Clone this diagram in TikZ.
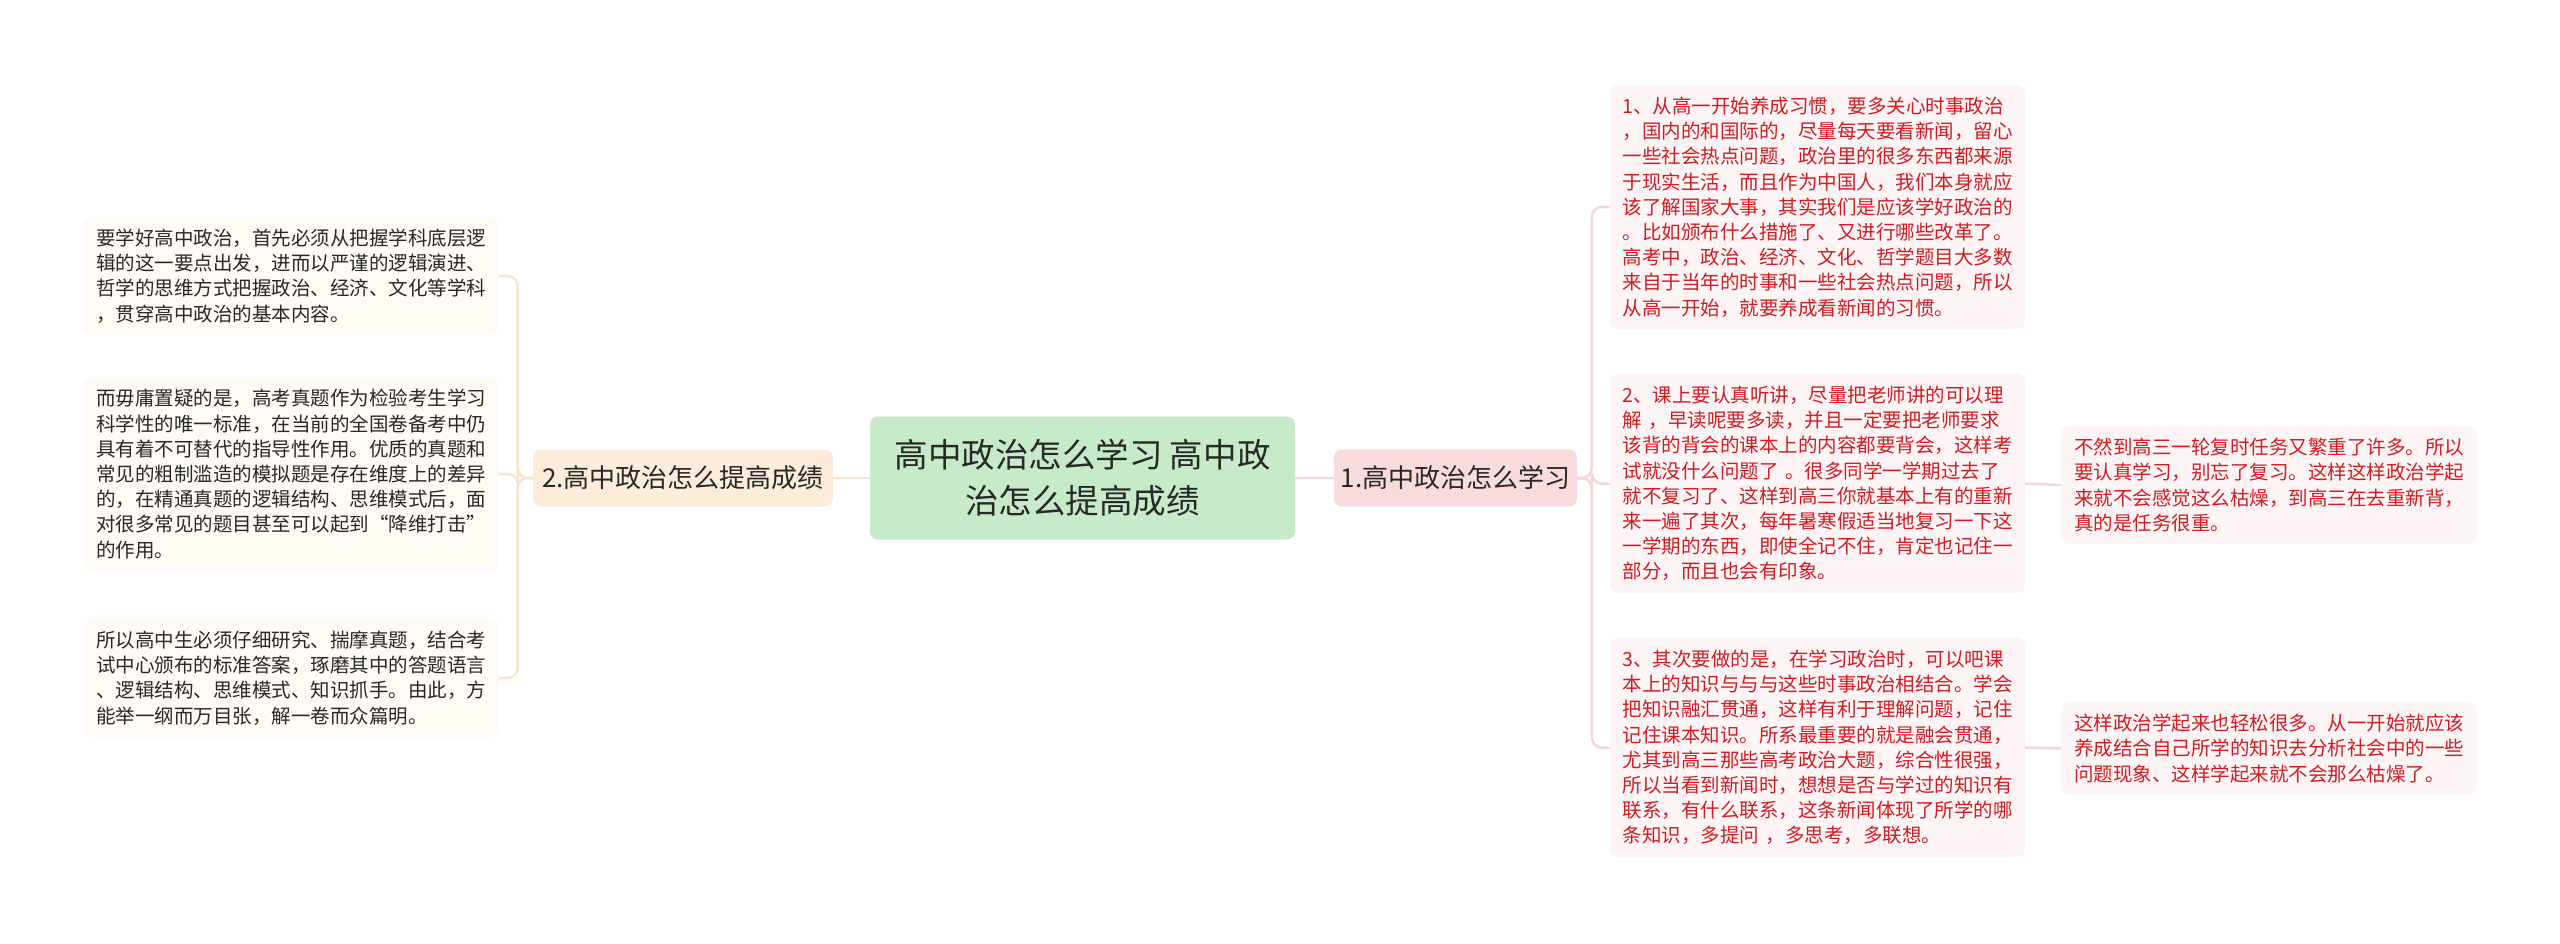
\documentclass[tikz,border=0pt]{standalone}
\usepackage{fontspec}
\usepackage{xcolor}
\setmainfont{Noto Sans CJK SC}
\usetikzlibrary{positioning, calc}

\definecolor{verdeC}{RGB}{199,235,201}
\definecolor{rosaN}{RGB}{250,219,220}
\definecolor{pescaN}{RGB}{253,236,218}
\definecolor{rosaF}{RGB}{253,245,245}
\definecolor{crema}{RGB}{254,250,244}
\definecolor{rossoT}{RGB}{208,28,34}
\definecolor{grigioT}{RGB}{40,40,40}
\definecolor{rosaL}{RGB}{246,213,215}
\definecolor{pescaL}{RGB}{252,228,204}

\tikzset{
  centrale/.style={fill=verdeC, rounded corners=8pt, minimum width=425pt, minimum height=123pt,
    align=center, text=grigioT, font=\fontsize{33.5}{46}\selectfont},
  ramo/.style={rounded corners=8pt, minimum height=57pt, inner xsep=4pt, text=grigioT,
    font=\fontsize{26}{30}\selectfont},
  foglia/.style={rounded corners=8pt, text width=390pt, inner xsep=12.5pt, inner ysep=12pt,
    align=left, font=\fontsize{19.5}{25.2}\selectfont},
  fogliaR/.style={foglia, fill=rosaF, text=rossoT},
  fogliaL/.style={foglia, fill=crema, text=grigioT},
  rlink/.style={draw=rosaL, line width=2.5pt, rounded corners=10pt},
  llink/.style={draw=pescaL, line width=2.5pt, rounded corners=10pt}
}

\begin{document}
\begin{tikzpicture}[x=1pt, y=-1pt]
    \useasboundingbox (0,0) rectangle (2560,943);

    % Nodo centrale e rami
    \node[centrale] (centro) at (1082.5,478) {高中政治怎么学习 高中政\\治怎么提高成绩};
    \node[ramo, fill=rosaN, minimum width=243pt] (n1) at (1455.5,478) {1.高中政治怎么学习};
    \node[ramo, fill=pescaN, minimum width=300pt] (n2) at (683,478) {2.高中政治怎么提高成绩};

    % Foglie a destra
    \node[fogliaR] (r1) at (1817.5,207) {1、从高一开始养成习惯，要多关心时事政治\\，国内的和国际的，尽量每天要看新闻，留心\\一些社会热点问题，政治里的很多东西都来源\\于现实生活，而且作为中国人，我们本身就应\\该了解国家大事，其实我们是应该学好政治的\\。比如颁布什么措施了、又进行哪些改革了。\\高考中，政治、经济、文化、哲学题目大多数\\来自于当年的时事和一些社会热点问题，所以\\从高一开始，就要养成看新闻的习惯。};
    \node[fogliaR] (r2) at (1817.5,483.5) {2、课上要认真听讲，尽量把老师讲的可以理\\解 ，早读呢要多读，并且一定要把老师要求\\该背的背会的课本上的内容都要背会，这样考\\试就没什么问题了 。很多同学一学期过去了\\就不复习了、这样到高三你就基本上有的重新\\来一遍了其次，每年暑寒假适当地复习一下这\\一学期的东西，即使全记不住，肯定也记住一\\部分，而且也会有印象。};
    \node[fogliaR] (r3) at (1817.5,747.5) {3、其次要做的是，在学习政治时，可以吧课\\本上的知识与与与这些时事政治相结合。学会\\把知识融汇贯通，这样有利于理解问题，记住\\记住课本知识。所系最重要的就是融会贯通，\\尤其到高三那些高考政治大题，综合性很强，\\所以当看到新闻时，想想是否与学过的知识有\\联系，有什么联系，这条新闻体现了所学的哪\\条知识，多提问 ，多思考，多联想。};
    \node[fogliaR] (r2c) at (2269,485) {不然到高三一轮复时任务又繁重了许多。所以\\要认真学习，别忘了复习。这样这样政治学起\\来就不会感觉这么枯燥，到高三在去重新背，\\真的是任务很重。};
    \node[fogliaR] (r3c) at (2269,748.5) {这样政治学起来也轻松很多。从一开始就应该\\养成结合自己所学的知识去分析社会中的一些\\问题现象、这样学起来就不会那么枯燥了。};

    % Foglie a sinistra
    \node[fogliaL] (l1) at (291,276) {要学好高中政治，首先必须从把握学科底层逻\\辑的这一要点出发，进而以严谨的逻辑演进、\\哲学的思维方式把握政治、经济、文化等学科\\，贯穿高中政治的基本内容。};
    \node[fogliaL] (l2) at (291,474) {而毋庸置疑的是，高考真题作为检验考生学习\\科学性的唯一标准，在当前的全国卷备考中仍\\具有着不可替代的指导性作用。优质的真题和\\常见的粗制滥造的模拟题是存在维度上的差异\\的，在精通真题的逻辑结构、思维模式后，面\\对很多常见的题目甚至可以起到“降维打击”\\的作用。};
    \node[fogliaL] (l3) at (291,678) {所以高中生必须仔细研究、揣摩真题，结合考\\试中心颁布的标准答案，琢磨其中的答题语言\\、逻辑结构、思维模式、知识抓手。由此，方\\能举一纲而万目张，解一卷而众篇明。};

    % Collegamenti a destra
    \draw[rlink] (centro.east) -- (n1.west);
    \draw[rlink] (n1.east) -| ([xshift=-18pt]r1.west) -- (r1.west);
    \draw[rlink] (n1.east) -| ([xshift=-18pt]r2.west) -- (r2.west);
    \draw[rlink] (n1.east) -| ([xshift=-18pt]r3.west) -- (r3.west);
    \draw[rlink] (r2.east) -- (r2c.west);
    \draw[rlink] (r3.east) -- (r3c.west);

    % Collegamenti a sinistra
    \draw[llink] (centro.west) -- (n2.east);
    \draw[llink] (n2.west) -| ([xshift=19pt]l1.east) -- (l1.east);
    \draw[llink] (n2.west) -| ([xshift=19pt]l2.east) -- (l2.east);
    \draw[llink] (n2.west) -| ([xshift=19pt]l3.east) -- (l3.east);
\end{tikzpicture}
\end{document}
